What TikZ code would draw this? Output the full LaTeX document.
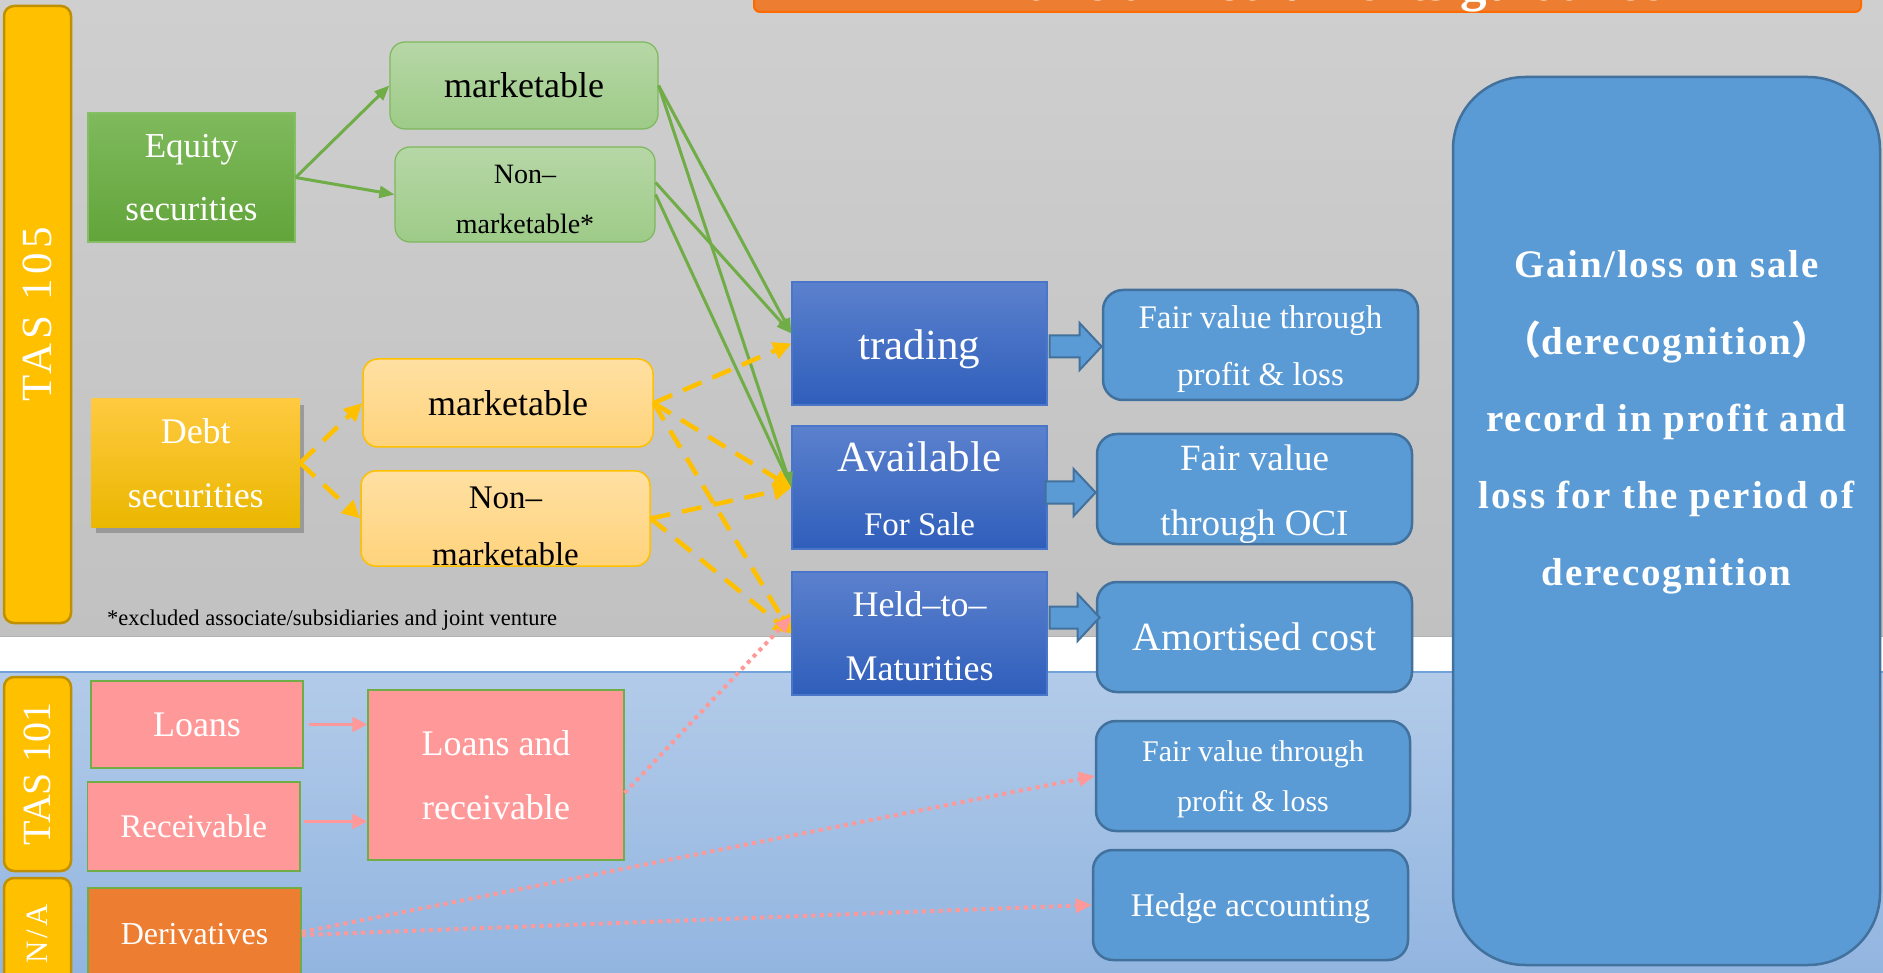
\documentclass[tikz,border=0pt]{standalone}
\usepackage{fontspec}
\setmainfont{Liberation Serif}
\newfontfamily\cjkfont{Noto Sans CJK SC}
\newfontfamily\barfont[LetterSpace=10]{Liberation Serif}
\newfontfamily\gainfont[LetterSpace=5]{Liberation Serif}
\usetikzlibrary{arrows.meta,shadows,calc}

\definecolor{bgtop}{HTML}{CFCFCF}
\definecolor{bgbot}{HTML}{C1C1C1}
\definecolor{bltop}{HTML}{B3CBE9}
\definecolor{blbot}{HTML}{92B5E0}
\definecolor{bandline}{HTML}{6FA3DA}
\definecolor{eqtop}{HTML}{7FBA5D}
\definecolor{eqbot}{HTML}{62A43A}
\definecolor{eqline}{HTML}{86BE66}
\definecolor{lgtop}{HTML}{B6D7A6}
\definecolor{lgbot}{HTML}{9ECB88}
\definecolor{lgline}{HTML}{7DB85C}
\definecolor{dbtop}{HTML}{FFCA40}
\definecolor{dbbot}{HTML}{EAB700}
\definecolor{lytop}{HTML}{FFE0A3}
\definecolor{lybot}{HTML}{FFD37B}
\definecolor{gold}{HTML}{FFC000}
\definecolor{goldline}{HTML}{BF9000}
\definecolor{bxtop}{HTML}{5B81CD}
\definecolor{bxbot}{HTML}{2F5EBB}
\definecolor{bxline}{HTML}{4A76CA}
\definecolor{res}{HTML}{5B9BD5}
\definecolor{resline}{HTML}{41719C}
\definecolor{pinkfill}{HTML}{FF9999}
\definecolor{orangefill}{HTML}{ED7D31}
\definecolor{titleline}{HTML}{FF6A00}
\definecolor{greenarr}{HTML}{70AD47}

\newcommand{\fsz}[2]{\fontsize{#1pt}{#2pt}\selectfont}
% invisible strut that sets the height of a first line
\newcommand{\lift}[1]{\rule{0pt}{#1pt}}

\begin{document}
\begin{tikzpicture}[x=1pt,y=-1pt,
  box/.style={inner sep=0pt, align=center, text=white},
  eqbox/.style={box, top color=eqtop, bottom color=eqbot, draw=eqline, line width=1.2pt},
  lgbox/.style={box, text=black, rounded corners=15pt, top color=lgtop, bottom color=lgbot, draw=lgline, line width=1.2pt},
  dbbox/.style={box, top color=dbtop, bottom color=dbbot,
    drop shadow={shadow xshift=4pt, shadow yshift=-6pt, fill=black!60, opacity=0.45}},
  lybox/.style={box, text=black, rounded corners=15pt, top color=lytop, bottom color=lybot, draw=gold, line width=1.5pt},
  bluebox/.style={box, top color=bxtop, bottom color=bxbot, draw=bxline, line width=1.2pt},
  resbox/.style={box, rounded corners=20pt, fill=res, draw=resline, line width=2.5pt},
  pinkbox/.style={box, fill=pinkfill, draw=greenarr, line width=1.5pt},
  derivbox/.style={box, fill=orangefill, draw=greenarr, line width=1.5pt},
  tasbar/.style={box, rounded corners=10pt, fill=gold, draw=goldline, line width=2.5pt},
  titlebox/.style={box, rounded corners=6pt, fill=orangefill, draw=titleline, line width=2pt},
  blockarrow/.style={fill=res, draw=resline, line width=2pt, line join=miter},
  greenlink/.style={draw=greenarr, line width=3pt, -{Triangle[length=15pt,width=12pt]}},
  goldlink/.style={draw=gold, line width=4.5pt, dash pattern=on 20pt off 12pt,
    -{Triangle[length=18pt,width=17pt]}},
  pinklink/.style={draw=pinkfill, line width=2.5pt, -{Triangle[length=15pt,width=15pt]}},
  pinkdots/.style={draw=pinkfill, line width=4pt, dash pattern=on 4pt off 4.5pt,
    -{Triangle[length=16pt,width=14pt]}}
]
\useasboundingbox (0,0) rectangle (1883,973);

% background bands
\fill[top color=bgtop, bottom color=bgbot] (0,0) rectangle (1883,637);
\draw[line width=1.5pt, draw=black!30] (0,637) -- (1883,637);
\fill[white] (0,637) rectangle (1883,672);
\fill[top color=bltop, bottom color=blbot] (0,672) rectangle (1883,973);
\draw[line width=1.5pt, draw=bandline] (0,672) -- (1883,672);

% title banner
\node[titlebox, minimum width=1107pt, minimum height=48.7pt, font=\fsz{53}{60}\bfseries]
  (title) at (1307.5,-12.35) {Financial instruments guidance};

% standard bars
\node[tasbar, rotate=90, minimum width=617pt, minimum height=67pt, font=\fsz{43}{48}\barfont]
  (tas105) at (37.5,314.5) {TAS 105};
\node[tasbar, rotate=90, minimum width=194pt, minimum height=67pt, font=\fsz{40}{48}]
  (tas101) at (37.5,774) {TAS 101};
\node[tasbar, rotate=90, minimum width=112pt, minimum height=67pt, font=\fsz{31}{40}\barfont]
  (na) at (37.5,934) {N/A};

% equity securities
\node[eqbox, minimum width=207pt, minimum height=129pt, font=\fsz{35}{63}]
  (eq) at (191.5,177.5) {Equity\\securities};
\node[lgbox, minimum width=268pt, minimum height=87pt, font=\fsz{36}{44}]
  (gm) at (524,85.5) {marketable};
\node[lgbox, minimum width=260pt, minimum height=95pt, font=\fsz{28}{50}]
  (gn) at (525,194.5) {\lift{28}Non–\\marketable*};

% debt securities
\node[dbbox, minimum width=208.5pt, minimum height=128pt, font=\fsz{36}{64}]
  (db) at (195.75,463) {Debt\\securities};
\node[lybox, minimum width=290pt, minimum height=88pt, font=\fsz{36}{44}]
  (ym) at (508,403) {marketable};
\node[lybox, minimum width=289pt, minimum height=95pt, font=\fsz{33}{57}]
  (yn) at (505.5,518.5) {\lift{38}Non–\\marketable};

\node[anchor=base west, inner sep=0pt, font=\fsz{22.5}{26}]
  (note) at (107,625) {*excluded associate/subsidiaries and joint venture};

% classification boxes
\node[bluebox, minimum width=255pt, minimum height=123pt, font=\fsz{43}{50}]
  (tr) at (919.5,343.5) {\lift{41}trading};
\node[bluebox, minimum width=255pt, minimum height=123pt, font=\fsz{43}{64}]
  (afs) at (919.5,487.5) {\lift{33}Available\\{\fsz{33}{40}For Sale}};
\node[bluebox, minimum width=255pt, minimum height=123pt, font=\fsz{36}{64}]
  (htm) at (919.5,633.5) {\lift{30}Held–to–\\Maturities};

% measurement boxes
\node[resbox, minimum width=315pt, minimum height=110pt, font=\fsz{33}{57}]
  (fv1) at (1260.5,345) {\lift{32}Fair value through\\profit \& loss};
\node[resbox, minimum width=315pt, minimum height=110pt, font=\fsz{37}{65}]
  (fv2) at (1254.5,489) {\lift{35}Fair value\\through OCI};
\node[resbox, minimum width=315pt, minimum height=110pt, font=\fsz{40}{48}]
  (ac) at (1254.5,637) {Amortised cost};
\node[resbox, minimum width=314pt, minimum height=110pt, font=\fsz{30}{50}]
  (fv3) at (1253,776) {\lift{28}Fair value through\\profit \& loss};
\node[resbox, minimum width=315pt, minimum height=110pt, font=\fsz{33}{40}]
  (hedge) at (1250.5,905) {\lift{31}Hedge accounting};

% derecognition box
\node[resbox, rounded corners=72pt, minimum width=427pt, minimum height=888pt]
  (gain) at (1666.5,521) {};
\node[inner sep=0pt, align=center, text=white, font=\fsz{39}{77}\gainfont\bfseries]
  (gaintext) at (1666.5,422) {Gain/loss on sale\\{\cjkfont （}derecognition{\cjkfont ）}\\record in profit and\\loss for the period of\\derecognition};

% loans, receivables and derivatives
\node[pinkbox, minimum width=212pt, minimum height=87pt, font=\fsz{36}{44}]
  (lo) at (197,724.5) {Loans};
\node[pinkbox, minimum width=212.5pt, minimum height=89pt, font=\fsz{33}{40}]
  (rc) at (193.75,826.5) {Receivable};
\node[pinkbox, minimum width=256pt, minimum height=170pt, font=\fsz{36}{64}]
  (lr) at (496,775) {Loans and\\receivable};
\node[derivbox, minimum width=213pt, minimum height=92pt, font=\fsz{32}{40}]
  (dv) at (194.5,934) {Derivatives};

% block arrows to the measurement bases
\path[blockarrow] ($(tr.east)+(2,-8)$) -- ++(30,0) -- ++(0,-12.5) -- ++(22,23.5)
  -- ++(-22,23.5) -- ++(0,-12.5) -- ++(-30,0) -- cycle;
\path[blockarrow] ($(afs.east)+(-2,-6)$) -- ++(28,0) -- ++(0,-12.5) -- ++(22,23.5)
  -- ++(-22,23.5) -- ++(0,-12.5) -- ++(-28,0) -- cycle;
\path[blockarrow] ($(htm.east)+(2,-27)$) -- ++(28,0) -- ++(0,-12.5) -- ++(22,23.5)
  -- ++(-22,23.5) -- ++(0,-12.5) -- ++(-28,0) -- cycle;

% equity flows
\draw[greenlink] (eq.east) -- (gm.west);
\draw[greenlink] (eq.east) -- (gn.west);
\draw[greenlink] (gm.east) -- ([yshift=10pt]tr.west);
\draw[greenlink] (gm.east) -- (afs.west);
\draw[greenlink] ([yshift=12pt]gn.east) -- ([yshift=10pt]tr.west);
\draw[greenlink] (gn.east) -- (afs.west);

% debt flows
\draw[goldlink] (db.east) -- (ym.west);
\draw[goldlink] (db.east) -- (yn.west);
\draw[goldlink] (ym.east) -- (tr.west);
\draw[goldlink] (ym.east) -- (afs.west);
\draw[goldlink] (ym.east) -- (htm.west);
\draw[goldlink] (yn.east) -- (afs.west);
\draw[goldlink] (yn.east) -- (htm.west);

% loans, receivables and derivatives flows
\draw[pinklink] ($(lo.east)+(5,0)$) -- (lo.east -| lr.west);
\draw[pinklink] ($(rc.east)+(3,-5)$) -- ($(rc.east -| lr.west)+(0,-5)$);
\draw[pinkdots] ([yshift=-18pt]lr.east) -- ([yshift=17pt]htm.west);
\draw[pinkdots] ([yshift=2pt]dv.east) -- (fv3.west);
\draw[pinkdots] ([yshift=-1pt]dv.east) -- (hedge.west);
\end{tikzpicture}
\end{document}
